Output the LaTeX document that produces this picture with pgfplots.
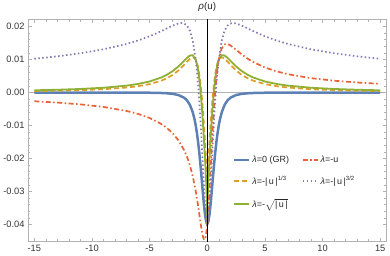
\documentclass[border=0pt]{standalone}
\usepackage{fontspec}
\setmainfont{Liberation Sans}
\usepackage{pgfplots}
\usepackage{pgfplotstable}
\pgfplotsset{compat=1.18}

\definecolor{mblue}{RGB}{94,129,181}
\definecolor{morange}{RGB}{225,156,36}
\definecolor{mgreen}{RGB}{143,176,50}
\definecolor{mred}{RGB}{235,98,53}
\definecolor{mpurple}{RGB}{135,120,179}

% lambda = 0 (GR)
\pgfplotstableread{
u rho
-15 -0.0000008
-13 -0.0000014
-11 -0.0000027
-9 -0.0000059
-7 -0.000016
-6 -0.000029
-5 -0.0000588
-4 -0.000138
-3.5 -0.000227
-3 -0.000398
-2.5 -0.000757
-2 -0.00159
-1.75 -0.00241
-1.5 -0.00377
-1.25 -0.00606
-1.1 -0.00815
-1 -0.00995
-0.9 -0.01215
-0.8 -0.01479
-0.7 -0.01792
-0.6 -0.02151
-0.5 -0.02546
-0.4 -0.02957
-0.3 -0.03349
-0.2 -0.03679
-0.1 -0.03900
-0.05 -0.03959
0 -0.03979
0.05 -0.03959
0.1 -0.03900
0.2 -0.03679
0.3 -0.03349
0.4 -0.02957
0.5 -0.02546
0.6 -0.02151
0.7 -0.01792
0.8 -0.01479
0.9 -0.01215
1 -0.00995
1.1 -0.00815
1.25 -0.00606
1.5 -0.00377
1.75 -0.00241
2 -0.00159
2.5 -0.000757
3 -0.000398
3.5 -0.000227
4 -0.000138
5 -0.0000588
6 -0.000029
7 -0.000016
9 -0.0000059
11 -0.0000027
13 -0.0000014
15 -0.0000008
}\gr

% lambda = -u
\pgfplotstableread{
u rho
-15 -0.00264
-13 -0.00304
-11 -0.00359
-9 -0.00437
-7 -0.00559
-6 -0.00648
-5 -0.00771
-4 -0.00950
-3.5 -0.01074
-3 -0.01233
-2.5 -0.01448
-2 -0.01751
-1.75 -0.01955
-1.5 -0.02213
-1.25 -0.02547
-1 -0.02984
-0.9 -0.03193
-0.8 -0.03420
-0.7 -0.03661
-0.6 -0.03907
-0.5 -0.04138
-0.4 -0.04329
-0.3 -0.04444
-0.25 -0.04461
-0.2 -0.04444
-0.15 -0.04389
-0.1 -0.04294
-0.05 -0.04157
0 -0.03979
0.05 -0.03761
0.1 -0.03507
0.2 -0.02913
0.3 -0.02254
0.4 -0.01585
0.5 -0.00955
0.6 -0.00396
0.7 0.00077
0.8 0.00462
0.9 0.00764
1 0.00995
1.25 0.01335
1.5 0.01460
1.75 0.01473
2 0.01432
2.5 0.01296
3 0.01154
3.5 0.01028
4 0.00922
5 0.00759
6 0.00642
7 0.00555
9 0.00436
11 0.00358
13 0.00304
15 0.00264
}\lin

% lambda = -|u|^(1/3)
\pgfplotstableread{
u rho
-15 0.00043
-13 0.00055
-11 0.00072
-9 0.00100
-7 0.00151
-6 0.00193
-5 0.00256
-4 0.00358
-3.5 0.00433
-3 0.00534
-2.5 0.00669
-2 0.00843
-1.75 0.00939
-1.5 0.01025
-1.3 0.01064
-1.25 0.01067
-1.1 0.01044
-1 0.00995
-0.9 0.00908
-0.8 0.00773
-0.7 0.00579
-0.6 0.00316
-0.5 -0.00020
-0.4 -0.00430
-0.3 -0.00905
-0.2 -0.01441
-0.1 -0.02072
-0.05 -0.02497
-0.02 -0.02896
0 -0.03979
0.02 -0.02896
0.05 -0.02497
0.1 -0.02072
0.2 -0.01441
0.3 -0.00905
0.4 -0.00430
0.5 -0.00020
0.6 0.00316
0.7 0.00579
0.8 0.00773
0.9 0.00908
1 0.00995
1.1 0.01044
1.25 0.01067
1.3 0.01064
1.5 0.01025
1.75 0.00939
2 0.00843
2.5 0.00669
3 0.00534
3.5 0.00433
4 0.00358
5 0.00256
6 0.00193
7 0.00151
9 0.00100
11 0.00072
13 0.00055
15 0.00043
}\cub

% lambda = -sqrt|u|
\pgfplotstableread{
u rho
-15 0.00068
-13 0.00084
-11 0.00108
-9 0.00145
-7 0.00209
-6 0.00261
-5 0.00336
-4 0.00454
-3.5 0.00539
-3 0.00649
-2.5 0.00792
-2 0.00966
-1.75 0.01055
-1.5 0.01123
-1.25 0.01130
-1 0.00995
-0.9 0.00871
-0.8 0.00691
-0.7 0.00442
-0.6 0.00115
-0.5 -0.00296
-0.4 -0.00788
-0.3 -0.01350
-0.2 -0.01968
-0.1 -0.02655
-0.05 -0.03072
-0.02 -0.03413
0 -0.03979
0.02 -0.03413
0.05 -0.03072
0.1 -0.02655
0.2 -0.01968
0.3 -0.01350
0.4 -0.00788
0.5 -0.00296
0.6 0.00115
0.7 0.00442
0.8 0.00691
0.9 0.00871
1 0.00995
1.25 0.01130
1.5 0.01123
1.75 0.01055
2 0.00966
2.5 0.00792
3 0.00649
3.5 0.00539
4 0.00454
5 0.00336
6 0.00261
7 0.00209
9 0.00145
11 0.00108
13 0.00084
15 0.00068
}\sqr

% lambda = -|u|^(3/2)
\pgfplotstableread{
u rho
-15 0.01023
-13 0.01097
-11 0.01190
-9 0.01310
-7 0.01472
-6 0.01578
-5 0.01705
-4 0.01859
-3.5 0.01944
-3 0.02028
-2.5 0.02094
-2.25 0.02107
-2 0.02092
-1.75 0.02026
-1.5 0.01872
-1.25 0.01564
-1 0.00995
-0.9 0.00662
-0.8 0.00257
-0.7 -0.00228
-0.6 -0.00791
-0.5 -0.01421
-0.4 -0.02089
-0.3 -0.02749
-0.2 -0.03336
-0.1 -0.03776
-0.05 -0.03915
0 -0.03979
0.05 -0.03915
0.1 -0.03776
0.2 -0.03336
0.3 -0.02749
0.4 -0.02089
0.5 -0.01421
0.6 -0.00791
0.7 -0.00228
0.8 0.00257
0.9 0.00662
1 0.00995
1.25 0.01564
1.5 0.01872
1.75 0.02026
2 0.02092
2.25 0.02107
2.5 0.02094
3 0.02028
3.5 0.01944
4 0.01859
5 0.01705
6 0.01578
7 0.01472
9 0.01310
11 0.01190
13 0.01097
15 0.01023
}\thr

\begin{document}
\begin{tikzpicture}
\begin{axis}[
    scale only axis,
    width=359.5pt, height=223pt,
    xmin=-15.55, xmax=15.55,
    ymin=-0.0452, ymax=0.0222,
    xtick={-15,-10,-5,0,5,10,15},
    ytick={-0.04,-0.03,-0.02,-0.01,0,0.01,0.02},
    minor x tick num=4,
    minor y tick num=4,
    scaled y ticks=false,
    yticklabel style={/pgf/number format/.cd, fixed, fixed zerofill, precision=2},
    /pgf/number format/assume math mode=true,
    tick align=inside,
    tick pos=both,
    major tick length=4pt,
    minor tick length=2.5pt,
    axis line style={gray!60},
    every tick/.style={gray!60, line width=0.5pt},
    tick label style={font=\fontsize{9.3}{10}\selectfont, text=black!80},
    extra y ticks={0},
    extra y tick labels={},
    extra y tick style={grid=major, major grid style={gray!60, line width=1.6pt}, major tick length=0pt},
    title={\textit{ρ}(u)},
    title style={font=\fontsize{9.8}{11}\selectfont, text=black!85, inner sep=2pt},
    legend image code/.code={\draw[#1] (0pt,0pt) -- (15pt,0pt);},
    legend style={at={(0.563,0.405)}, anchor=north west, draw=none, fill=none,
        font=\fontsize{9}{10}\selectfont, text=black!85,
        row sep=8.6pt,
        /tikz/every even column/.append style={column sep=11pt}},
    legend columns=2,
    legend cell align=left,
]
\addplot[mblue, line width=2.5pt, forget plot] table[x=u, y=rho] {\gr};
\addplot[morange, line width=1.7pt, dash pattern=on 5pt off 3pt, forget plot] table[x=u, y=rho] {\cub};
\addplot[mgreen, line width=1.8pt, forget plot] table[x=u, y=rho] {\sqr};
\addplot[mred, line width=1.7pt, dash pattern=on 5pt off 2.5pt on 1.5pt off 2.5pt, forget plot] table[x=u, y=rho] {\lin};
\addplot[mpurple, line width=1.7pt, dash pattern=on 1.5pt off 2.5pt, forget plot] table[x=u, y=rho] {\thr};
\draw[black, line width=0.6pt] (axis cs:0,-0.0452) -- (axis cs:0,0.0222);

\addlegendimage{mblue, line width=2.5pt}
\addlegendentry{\textit{λ}=0 (GR)}
\addlegendimage{mred, line width=1.7pt, dash pattern=on 5pt off 2.5pt on 1.5pt off 2.5pt}
\addlegendentry{\textit{λ}=-u}
\addlegendimage{morange, line width=1.7pt, dash pattern=on 5pt off 3pt}
\addlegendentry{\textit{λ}=-|\,u\,|\textsuperscript{1/3}}
\addlegendimage{mpurple, line width=1.7pt, dash pattern=on 1.5pt off 2.5pt}
\addlegendentry{\textit{λ}=-|\,u\,|\textsuperscript{3/2}}
\addlegendimage{mgreen, line width=1.8pt}
\addlegendentry{\textit{λ}=-$\sqrt{\mbox{|\,u\,|}}$}
\end{axis}
\path (current axis.east) ++(3.5pt,0);
\end{tikzpicture}
\end{document}
